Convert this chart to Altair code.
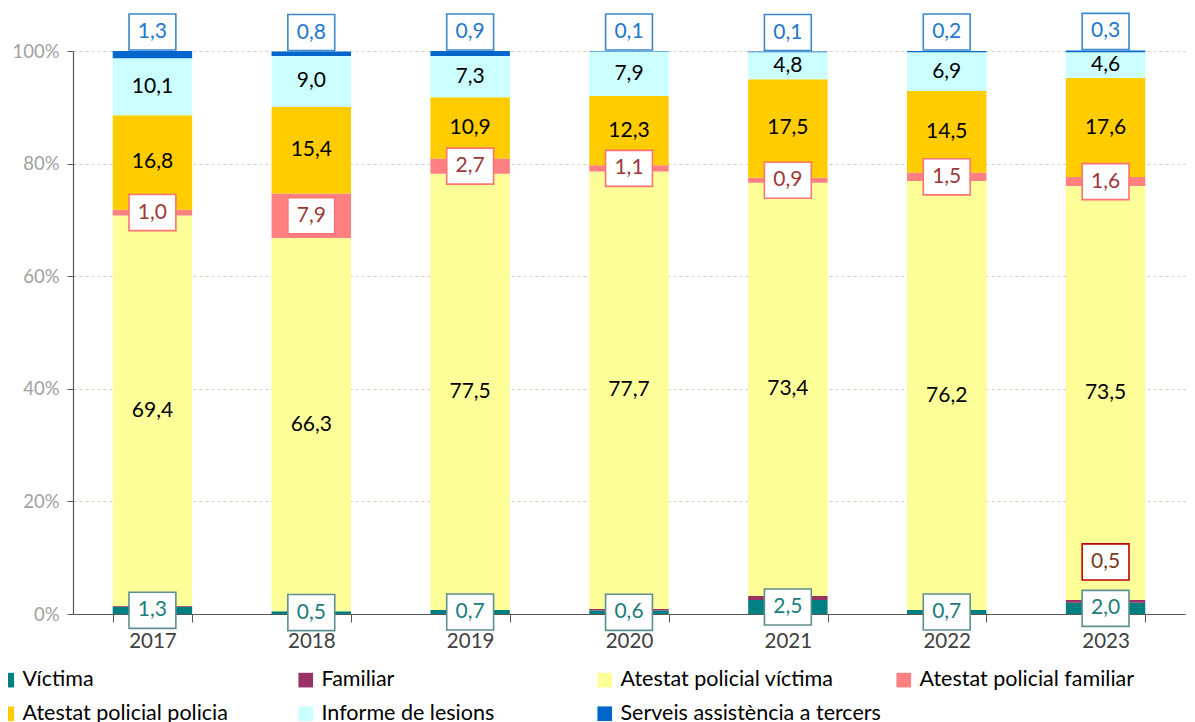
import altair as alt
import pandas as pd

years = ["2017", "2018", "2019", "2020", "2021", "2022", "2023"]
categories = [
    "Víctima",
    "Familiar",
    "Atestat policial víctima",
    "Atestat policial familiar",
    "Atestat policial policia",
    "Informe de lesions",
    "Serveis assistència a tercers",
]
victima = [1.3, 0.5, 0.7, 0.6, 2.5, 0.7, 2.0]
familiar = [0.1, 0.0, 0.0, 0.3, 0.7, 0.0, 0.5]
atestat_victima = [69.4, 66.3, 77.5, 77.7, 73.4, 76.2, 73.5]
atestat_familiar = [1.0, 7.9, 2.7, 1.1, 0.9, 1.5, 1.6]
atestat_policia = [16.8, 15.4, 10.9, 12.3, 17.5, 14.5, 17.6]
informe_lesions = [10.1, 9.0, 7.3, 7.9, 4.8, 6.9, 4.6]
serveis = [1.3, 0.8, 0.9, 0.1, 0.1, 0.2, 0.3]
y_ticks = [0, 20, 40, 60, 80, 100]

colors = ["#008080", "#993366", "#FFFF99", "#FF8080", "#FFCC00", "#CCFFFF", "#0066CC"]

series = [victima, familiar, atestat_victima, atestat_familiar,
          atestat_policia, informe_lesions, serveis]
rows = []
for ci, (cat, vals) in enumerate(zip(categories, series)):
    for y, v in zip(years, vals):
        rows.append({"year": y, "category": cat, "idx": ci, "value": v})
df = pd.DataFrame(rows)

FONT = "Lato"
BOX = "M-1.3,-1H1.3V1H-1.3Z"

base = alt.Chart(df).transform_stack(
    stack="value", as_=["y0", "y1"], groupby=["year"],
    sort=[alt.SortField("idx", order="ascending")]
).transform_calculate(
    mid="(datum.y0 + datum.y1) / 2",
    label="replace(format(datum.value, '.1f'), '.', ',')",
)

xenc = alt.X(
    "year:N",
    sort=years,
    scale=alt.Scale(paddingInner=0.5, paddingOuter=0.25),
    axis=alt.Axis(
        title=None, labelAngle=0, labelFont=FONT, labelFontSize=20.5,
        labelColor="#404040", tickBand="extent", tickSize=8,
        domainColor="#595959", tickColor="#595959", labelPadding=9,
        domainWidth=1.2,
    ),
)
yscale = alt.Scale(domain=[0, 100], nice=False)

bars = base.mark_bar().encode(
    x=xenc,
    y=alt.Y(
        "y0:Q", scale=yscale,
        axis=alt.Axis(
            title=None, values=y_ticks, labelExpr="datum.value + '%'",
            grid=True, gridDash=[3, 3], gridColor="#d6cfbc",
            domainColor="#595959", tickColor="#595959", tickSize=6,
            labelColor="#a0a0a0", labelFont=FONT, labelFontSize=18.5,
            labelPadding=8, domainWidth=1.2,
        ),
    ),
    y2="y1:Q",
    color=alt.Color(
        "category:N",
        scale=alt.Scale(domain=categories, range=colors),
        legend=alt.Legend(
            title=None, orient="none", legendX=-77, legendY=618,
            direction="horizontal", columns=4, gridAlign="all",
            columnPadding=12, rowPadding=11,
            symbolType="square", symbolSize=215, symbolStrokeWidth=0,
            symbolOpacity=1, labelFont=FONT, labelFontSize=21.5,
            labelColor="#000000", labelOffset=5, labelLimit=400,
        ),
    ),
    order=alt.Order("idx:Q", sort="ascending"),
)

inner = base.transform_filter(
    alt.FieldOneOfPredicate(field="category", oneOf=[categories[2], categories[4], categories[5]])
).mark_text(font=FONT, fontSize=21, color="#000000").encode(
    x=alt.X("year:N", sort=years), y=alt.Y("mid:Q", scale=yscale), text="label:N"
)


def boxed(cat, yfield, yoff, text_color, border, extra_filter=None):
    ch = base.transform_filter(alt.datum.category == cat)
    if extra_filter is not None:
        ch = ch.transform_filter(extra_filter)
    box = ch.mark_point(
        shape=BOX, size=1300, filled=True, fill="white", stroke=border,
        strokeWidth=1.6, opacity=1, fillOpacity=1, strokeOpacity=1, yOffset=yoff,
    ).encode(x=alt.X("year:N", sort=years), y=alt.Y(yfield, scale=yscale))
    txt = ch.mark_text(
        font=FONT, fontSize=21, color=text_color, yOffset=yoff,
    ).encode(x=alt.X("year:N", sort=years), y=alt.Y(yfield, scale=yscale), text="label:N")
    return box + txt


lab_victima = boxed("Víctima", "mid:Q", 0, "#1b7c7c", "#5e8f8f")
lab_afam = boxed("Atestat policial familiar", "mid:Q", 0, "#9c3838", "#ff7373")
lab_serveis = boxed("Serveis assistència a tercers", "y1:Q", -19, "#2277cc", "#3b88cc")
lab_fam = boxed("Familiar", "y1:Q", -38, "#7a3a1c", "#c00000", alt.datum.year == "2023")

chart = alt.layer(
    bars, inner, lab_victima, lab_afam, lab_serveis, lab_fam
).properties(
    width=1112, height=563,
    padding={"left": 65, "top": 43, "right": 2, "bottom": 113},
    autosize="none",
).configure_view(stroke=None)

chart.save("out.html", embed_options={"renderer": "svg", "actions": False})
